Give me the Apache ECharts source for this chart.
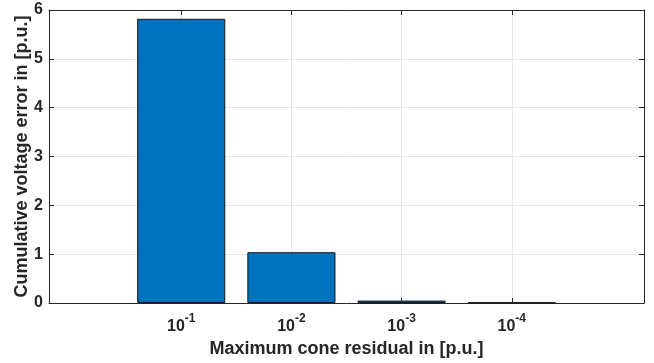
<!DOCTYPE html>
<html>
<head>
<meta charset="utf-8">
<script src="https://cdn.jsdelivr.net/npm/echarts@6/dist/echarts.min.js"></script>
<style>
  html, body { margin: 0; padding: 0; background: #fff; }
  #main { width: 654px; height: 363px; }
</style>
</head>
<body>
<div id="main"></div>
<script>
// bar positions and their tick labels (10^exponent)
var positions = [1, 2, 3, 4];
var exponents = ["-1", "-2", "-3", "-4"];
// cumulative voltage error per residual level
var errors = [5.82, 1.04, 0.05, 0.01];

var axisColor = "#262626";
var gridColor = "#e6e6e6";
var font = "Liberation Sans, Arial, Helvetica, sans-serif";

var chart = echarts.init(document.getElementById("main"));

var option = {
  animation: false,
  grid: { left: 49, right: 10, top: 10, bottom: 60, outerBoundsMode: "none", containLabel: false },
  xAxis: [
    {
      type: "value",
      min: -0.2,
      max: 5.2,
      position: "bottom",
      name: "Maximum cone residual in [p.u.]",
      nameLocation: "middle",
      nameGap: 37,
      nameMoveOverlap: false,
      nameTextStyle: { fontFamily: font, fontWeight: "bold", fontSize: 18, color: axisColor },
      axisLine: { show: true, onZero: false, lineStyle: { color: axisColor, width: 1 } },
      axisTick: { show: true, inside: true, length: 5, customValues: positions, lineStyle: { color: axisColor } },
      axisLabel: {
        customValues: positions,
        margin: 10,
        formatter: function (v) {
          var i = positions.indexOf(v);
          return "{b|10}{s|" + exponents[i] + "}";
        },
        rich: {
          b: { fontFamily: font, fontWeight: "bold", fontSize: 16, color: axisColor, lineHeight: 22, verticalAlign: "bottom" },
          s: { fontFamily: font, fontWeight: "bold", fontSize: 12, color: axisColor, lineHeight: 11, verticalAlign: "top" }
        }
      },
      splitLine: { show: true, lineStyle: { color: gridColor, width: 1 } }
    },
    {
      type: "value",
      min: -0.2,
      max: 5.2,
      position: "top",
      axisLine: { show: true, onZero: false, lineStyle: { color: axisColor, width: 1 } },
      axisTick: { show: true, inside: true, length: 5, customValues: positions, lineStyle: { color: axisColor } },
      axisLabel: { show: false },
      splitLine: { show: false }
    }
  ],
  yAxis: [
    {
      type: "value",
      min: 0,
      max: 6,
      interval: 1,
      position: "left",
      name: "Cumulative voltage error in [p.u.]",
      nameLocation: "middle",
      nameGap: 18,
      nameMoveOverlap: false,
      nameTextStyle: { fontFamily: font, fontWeight: "bold", fontSize: 18, color: axisColor },
      axisLine: { show: true, onZero: false, lineStyle: { color: axisColor, width: 1 } },
      axisTick: { show: true, inside: true, length: 5, lineStyle: { color: axisColor } },
      axisLabel: { margin: 6, fontFamily: font, fontWeight: "bold", fontSize: 16, color: axisColor },
      splitLine: { show: true, lineStyle: { color: gridColor, width: 1 } }
    },
    {
      type: "value",
      min: 0,
      max: 6,
      interval: 1,
      position: "right",
      axisLine: { show: true, onZero: false, lineStyle: { color: axisColor, width: 1 } },
      axisTick: { show: true, inside: true, length: 5, lineStyle: { color: axisColor } },
      axisLabel: { show: false },
      splitLine: { show: false }
    }
  ],
  series: [
    {
      type: "bar",
      xAxisIndex: 0,
      yAxisIndex: 0,
      barWidth: "80%",
      data: positions.map(function (p, i) { return [p, errors[i]]; }),
      itemStyle: { color: "#0072BD", borderColor: "#1a1a1a", borderWidth: 1 },
      z: 3
    }
  ]
};

chart.setOption(option);
</script>
</body>
</html>
